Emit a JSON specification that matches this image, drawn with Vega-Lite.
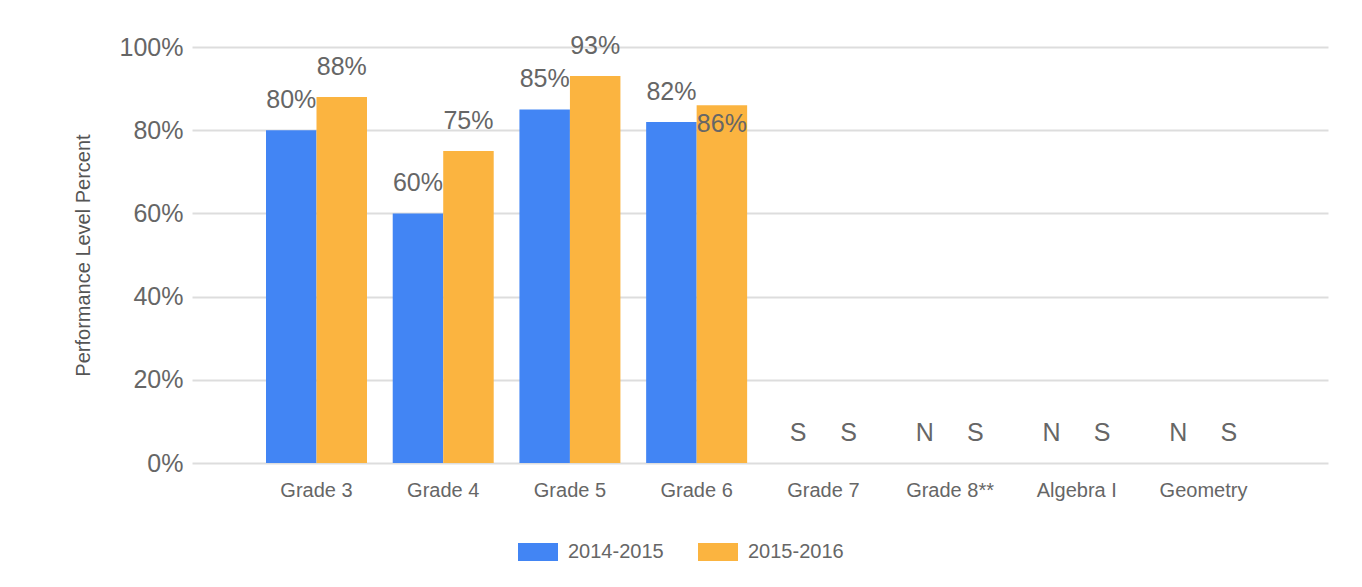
{
  "$schema": "https://vega.github.io/schema/vega-lite/v6.json",
  "width": 1136,
  "height": 416,
  "autosize": "none",
  "padding": {"left": 192, "top": 47, "right": 34, "bottom": 124},
  "background": "white",
  "config": {
    "font": "Liberation Sans",
    "view": {"stroke": null}
  },
  "data": {
    "values": [
      {"grade": "Grade 3", "year": "2014-2015", "value": 0.80, "label": "80%"},
      {"grade": "Grade 3", "year": "2015-2016", "value": 0.88, "label": "88%"},
      {"grade": "Grade 4", "year": "2014-2015", "value": 0.60, "label": "60%"},
      {"grade": "Grade 4", "year": "2015-2016", "value": 0.75, "label": "75%"},
      {"grade": "Grade 5", "year": "2014-2015", "value": 0.85, "label": "85%"},
      {"grade": "Grade 5", "year": "2015-2016", "value": 0.93, "label": "93%"},
      {"grade": "Grade 6", "year": "2014-2015", "value": 0.82, "label": "82%"},
      {"grade": "Grade 6", "year": "2015-2016", "value": 0.86, "label": "86%"},
      {"grade": "Grade 7", "year": "2014-2015", "value": 0, "label": "S"},
      {"grade": "Grade 7", "year": "2015-2016", "value": 0, "label": "S"},
      {"grade": "Grade 8**", "year": "2014-2015", "value": 0, "label": "N"},
      {"grade": "Grade 8**", "year": "2015-2016", "value": 0, "label": "S"},
      {"grade": "Algebra I", "year": "2014-2015", "value": 0, "label": "N"},
      {"grade": "Algebra I", "year": "2015-2016", "value": 0, "label": "S"},
      {"grade": "Geometry", "year": "2014-2015", "value": 0, "label": "N"},
      {"grade": "Geometry", "year": "2015-2016", "value": 0, "label": "S"}
    ]
  },
  "encoding": {
    "x": {
      "field": "grade",
      "type": "nominal",
      "sort": ["Grade 3", "Grade 4", "Grade 5", "Grade 6", "Grade 7", "Grade 8**", "Algebra I", "Geometry"],
      "scale": {"paddingInner": 0.203, "paddingOuter": 0.584},
      "axis": {
        "title": null,
        "labelAngle": 0,
        "labelFontSize": 20,
        "labelColor": "#666666",
        "labelPadding": 17,
        "ticks": false,
        "domain": false,
        "grid": false
      }
    },
    "xOffset": {
      "field": "year",
      "type": "nominal",
      "scale": {"paddingInner": 0, "paddingOuter": 0}
    },
    "y": {
      "field": "value",
      "type": "quantitative",
      "scale": {"domain": [0, 1]},
      "axis": {
        "values": [0, 0.2, 0.4, 0.6, 0.8, 1],
        "format": ".0%",
        "labelFontSize": 25,
        "labelColor": "#666666",
        "labelPadding": 9,
        "ticks": false,
        "domain": false,
        "gridColor": "#dddddd",
        "gridWidth": 2,
        "title": "Performance Level Percent",
        "titleFontSize": 20,
        "titleFontWeight": "normal",
        "titleColor": "#555555",
        "titlePadding": 26
      }
    }
  },
  "layer": [
    {
      "mark": {"type": "bar"},
      "encoding": {
        "color": {
          "field": "year",
          "type": "nominal",
          "scale": {"domain": ["2014-2015", "2015-2016"], "range": ["#4285f4", "#fbb440"]},
          "legend": {
            "title": null,
            "orient": "none",
            "legendX": 326,
            "legendY": 485,
            "direction": "horizontal",
            "symbolType": "M-1,-0.45H1V0.45H-1Z",
            "symbolSize": 1600,
            "symbolStrokeWidth": 0,
            "labelFontSize": 20,
            "labelColor": "#666666",
            "labelOffset": 10,
            "columnPadding": 34
          }
        }
      }
    },
    {
      "transform": [{"filter": "!(datum.grade == 'Grade 6' && datum.year == '2015-2016')"}],
      "mark": {"type": "text", "dy": -30, "fontSize": 25, "color": "#666666"},
      "encoding": {"text": {"field": "label"}}
    },
    {
      "transform": [{"filter": "datum.grade == 'Grade 6' && datum.year == '2015-2016'"}],
      "mark": {"type": "text", "dy": 19, "fontSize": 25, "color": "#666666"},
      "encoding": {"text": {"field": "label"}}
    }
  ]
}
